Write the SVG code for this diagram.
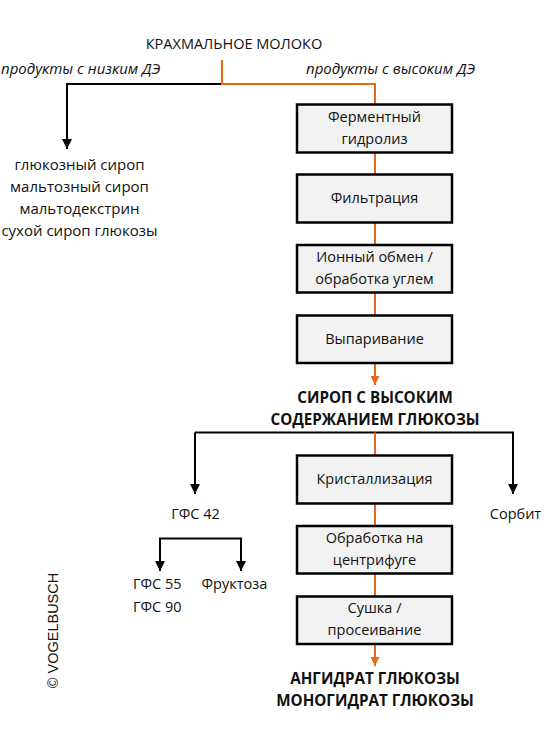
<svg xmlns="http://www.w3.org/2000/svg" width="544" height="739" viewBox="0 0 544 739">
<style>
text{font-family:"Open Sans","Noto Sans","DejaVu Sans",sans-serif;font-size:14.5px;fill:#111;}
.c{text-anchor:middle;}
.b{font-weight:bold;font-size:15.2px;}
.i{font-style:italic;font-size:15px;}
.l{font-size:15px;}
.box{fill:#f2f2f2;stroke:#000;stroke-width:2.5;}
.k{fill:none;stroke:#000;stroke-width:2;}
.o{fill:none;stroke:#E8681A;stroke-width:2;}
.copy{font-family:"Liberation Sans",Arial,sans-serif;font-size:14.5px;}
</style>
<defs>
<marker id="ak" markerUnits="userSpaceOnUse" markerWidth="10" markerHeight="10" refX="10" refY="5" orient="auto" viewBox="0 0 10 10">
<path d="M0,0 L10,5 L0,10 z" fill="#000"/>
</marker>
<marker id="ao" markerUnits="userSpaceOnUse" markerWidth="9" markerHeight="9" refX="9" refY="4.5" orient="auto" viewBox="0 0 9 9">
<path d="M0,0 L9,4.5 L0,9 z" fill="#E8681A"/>
</marker>
</defs>
<g id="connectors">
<path class="k" d="M222,84 H67 V149" marker-end="url(#ak)"/>
<path class="o" d="M222,60 V84 H375 V104"/>
<path class="o" d="M375,152.5 V174.5"/>
<path class="o" d="M375,222.5 V245"/>
<path class="o" d="M375,292.5 V315.5"/>
<path class="o" d="M375,363 V385" marker-end="url(#ao)"/>
<path class="k" d="M195,432.5 V494" marker-end="url(#ak)"/>
<path class="k" d="M195,432.5 H513 V494" marker-end="url(#ak)"/>
<path class="o" d="M375,432.5 V455.5"/>
<path class="o" d="M375,503.5 V526"/>
<path class="o" d="M375,573.5 V596.5"/>
<path class="o" d="M375,644 V666" marker-end="url(#ao)"/>
<path class="k" d="M160,571 V538.5 H241 V571" marker-end="url(#ak)"/>
<path class="k" d="M160,538.5 V571" marker-end="url(#ak)"/>
</g>
<g id="start"><text class="c" x="234" y="49">КРАХМАЛЬНОЕ МОЛОКО</text></g>
<g id="label-low"><text class="i" x="1" y="74">продукты с низким ДЭ</text></g>
<g id="label-high"><text class="i" x="306" y="74">продукты с высоким ДЭ</text></g>
<g id="low-products">
<text class="c l" x="79.5" y="169.5">глюкозный сироп</text>
<text class="c l" x="79.5" y="191.5">мальтозный сироп</text>
<text class="c l" x="79.5" y="213.5">мальтодекстрин</text>
<text class="c l" x="79.5" y="235.5">сухой сироп глюкозы</text>
</g>
<g id="n1"><rect class="box" x="297" y="104.5" width="155" height="48"/>
<text class="c" x="374.5" y="121.5">Ферментный</text><text class="c" x="374.5" y="143.5">гидролиз</text></g>
<g id="n2"><rect class="box" x="297" y="174.5" width="155" height="48"/>
<text class="c" x="374.5" y="203">Фильтрация</text></g>
<g id="n3"><rect class="box" x="297" y="245" width="155" height="47.5"/>
<text class="c" x="374.5" y="261.5">Ионный обмен /</text><text class="c" x="374.5" y="283.5">обработка углем</text></g>
<g id="n4"><rect class="box" x="297" y="315.5" width="155" height="47.5"/>
<text class="c" x="374.5" y="343.5">Выпаривание</text></g>
<g id="syrup"><text class="c b" x="375" y="402.5">СИРОП С ВЫСОКИМ</text><text class="c b" x="375" y="425">СОДЕРЖАНИЕМ ГЛЮКОЗЫ</text></g>
<g id="n5"><rect class="box" x="297" y="455.5" width="155" height="48"/>
<text class="c" x="374.5" y="484">Кристаллизация</text></g>
<g id="n6"><rect class="box" x="297" y="526" width="155" height="47.5"/>
<text class="c" x="374.5" y="542.5">Обработка на</text><text class="c" x="374.5" y="564.5">центрифуге</text></g>
<g id="n7"><rect class="box" x="297" y="596.5" width="155" height="47.5"/>
<text class="c" x="374.5" y="613">Сушка /</text><text class="c" x="374.5" y="635">просеивание</text></g>
<g id="gfs42"><text class="c" x="195.5" y="519">ГФС 42</text></g>
<g id="sorbit"><text class="c" x="515.5" y="519">Сорбит</text></g>
<g id="gfs55"><text x="133" y="589">ГФС 55</text><text x="133" y="611.5">ГФС 90</text></g>
<g id="fructose"><text x="201.5" y="589">Фруктоза</text></g>
<g id="final"><text class="c b" x="375" y="683.5">АНГИДРАТ ГЛЮКОЗЫ</text><text class="c b" x="375" y="706">МОНОГИДРАТ ГЛЮКОЗЫ</text></g>
<g id="copyright"><text class="copy c" transform="translate(58,630.5) rotate(-90)">© VOGELBUSCH</text></g>
</svg>
